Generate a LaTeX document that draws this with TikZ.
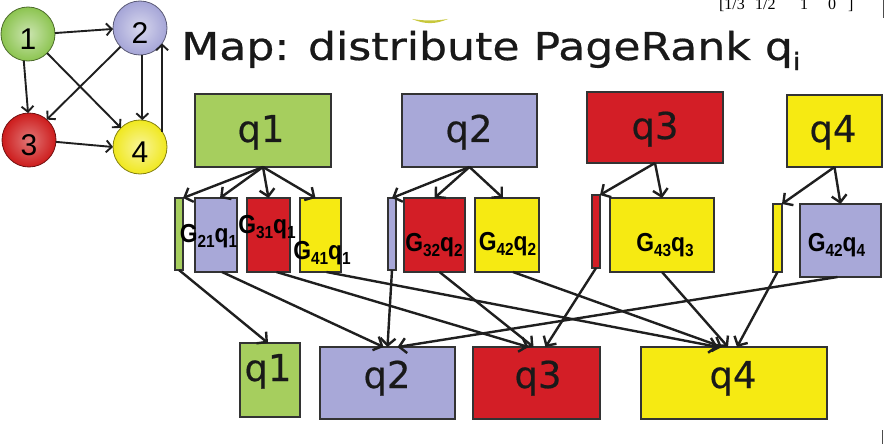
\documentclass[tikz,border=0pt]{standalone}
\usepackage{fontspec}
\usetikzlibrary{arrows.meta}
\newfontfamily\titlefont{DejaVu Sans}[FakeBold=0.5]
\newfontfamily\gfont{Liberation Sans}
\newfontfamily\serfont{Liberation Serif}
\definecolor{cgreen}{RGB}{166,206,94}
\definecolor{clav}{RGB}{168,168,216}
\definecolor{cred}{RGB}{211,30,38}
\definecolor{cyel}{RGB}{246,234,18}
\definecolor{ggreen}{RGB}{140,196,80}
\definecolor{glav}{RGB}{165,165,215}
\definecolor{gred}{RGB}{205,28,28}
\definecolor{gyel}{RGB}{240,232,30}
\definecolor{blip}{RGB}{200,200,60}
\newcommand\glab[2]{\scalebox{0.88}[1]{G\raisebox{-5pt}{\fontsize{17.5}{17.5}\selectfont #1}q\raisebox{-5pt}{\fontsize{17.5}{17.5}\selectfont #2}}}
\tikzset{
  bx/.style={draw=black!80, line width=1.3pt, rectangle, inner sep=0pt, outer sep=0pt},
  qlab/.style={anchor=base, inner sep=0pt, text=black!90, font=\titlefont\fontsize{37}{37}\selectfont},
  glabel/.style={anchor=base, inner sep=0pt, font=\gfont\bfseries\fontsize{26}{26}\selectfont},
  arr/.style={draw=black!88, line width=2.4pt, -{Straight Barb[length=7pt,width=15pt]}},
  garr/.style={draw=black!88, line width=1.9pt, -{Straight Barb[length=5.5pt,width=12pt]}},
  gnode/.style={circle, minimum size=54pt, inner sep=0pt, outer sep=0pt, line width=0.8pt},
  gdig/.style={inner sep=0pt, font=\gfont\fontsize{30}{30}\selectfont},
}
\begin{document}
\begin{tikzpicture}[x=1pt,y=-1pt]
\useasboundingbox (0,0) rectangle (887,444);
\fill[white] (0,0) rectangle (887,444);
\clip (0,0) rectangle (887,444);

% graph
\node[gnode, draw=ggreen!55!black, inner color=ggreen!45!white, outer color=ggreen] (n1) at (28,34) {};
\node[gnode, draw=glav!55!black, inner color=glav!45!white, outer color=glav] (n2) at (140,28) {};
\node[gnode, draw=gred!55!black, inner color=gred!60!white, outer color=gred] (n3) at (29,140) {};
\node[gnode, draw=gyel!55!black, inner color=gyel!45!white, outer color=gyel] (n4) at (140,147) {};
\node[gdig] at ([yshift=-5pt]n1) {1};
\node[gdig] at ([yshift=-5pt]n2) {2};
\node[gdig] at ([yshift=-5pt]n3) {3};
\node[gdig] at ([yshift=-5pt]n4) {4};
\draw[garr] (n1.2) -- (n2.182);
\draw[garr] (n1.-99) -- (n3.92);
\draw[garr] (n1.-45) -- (n4.135);
\draw[garr] (n2.-136) -- (n3.49);
\draw[garr] (n2.-85) -- (n4.85);
\draw[garr] (n3.-4) -- (n4.180);
\draw[garr] (n4.35) -- (n2.-35);

% title
\node[anchor=base west, inner sep=0pt, text=black!90] (title) at (181,60) {\scalebox{1.15}[1]{\titlefont\fontsize{38.4}{40}\selectfont Map: distribute PageRank q\raisebox{-10pt}{\fontsize{24}{24}\selectfont i}}};

% fragments at the top
\node[anchor=base east, inner sep=0pt, font=\serfont\fontsize{16}{16}\selectfont] (fa) at (745,10) {[1/3};
\node[anchor=base west, inner sep=0pt, font=\serfont\fontsize{16}{16}\selectfont] (fb) at (755,10) {1/2};
\node[anchor=base west, inner sep=0pt, font=\serfont\fontsize{16}{16}\selectfont] (fc) at (800,10) {1};
\node[anchor=base west, inner sep=0pt, font=\serfont\fontsize{16}{16}\selectfont] (fd) at (828,10) {0};
\node[anchor=base west, inner sep=0pt, font=\serfont\fontsize{16}{16}\selectfont] (fe) at (848,10) {]};
\draw[black!70, line width=0.8pt] (883,0) -- (883,18);
\draw[black!70, line width=0.8pt] (882,430) -- (882,444);
\fill[blip] (412,19) .. controls (425,24.5) and (435,24.5) .. (448,19) .. controls (435,21) and (425,21) .. (412,19);

% top boxes
\node[bx, fill=cgreen, minimum width=136pt, minimum height=73pt] (t1) at (263,130.5) {};
\node[bx, fill=clav, minimum width=135pt, minimum height=73pt] (t2) at (469.5,130.5) {};
\node[bx, fill=cred, minimum width=136pt, minimum height=71pt] (t3) at (655,127.5) {};
\node[bx, fill=cyel, minimum width=95pt, minimum height=72pt] (t4) at (834.5,131) {};

% middle boxes
\node[bx, fill=cgreen, minimum width=8pt, minimum height=72pt] (m1g) at (179,234) {};
\node[bx, fill=clav, minimum width=42pt, minimum height=74pt] (m21) at (216,235) {};
\node[bx, fill=cred, minimum width=43pt, minimum height=74pt] (m31) at (268.5,235) {};
\node[bx, fill=cyel, minimum width=41pt, minimum height=74pt] (m41) at (320.5,235) {};
\node[bx, fill=clav, minimum width=8pt, minimum height=72pt] (m2b) at (392,234) {};
\node[bx, fill=cred, minimum width=61pt, minimum height=74pt] (m32) at (434.5,235) {};
\node[bx, fill=cyel, minimum width=64pt, minimum height=74pt] (m42) at (507,235) {};
\node[bx, fill=cred, minimum width=8pt, minimum height=73pt] (m3b) at (596,231.5) {};
\node[bx, fill=cyel, minimum width=104pt, minimum height=74pt] (m43) at (662,235) {};
\node[bx, fill=cyel, minimum width=9pt, minimum height=68pt] (m4b) at (777.5,238) {};
\node[bx, fill=clav, minimum width=81pt, minimum height=73pt] (m44) at (840.5,240.5) {};

% bottom boxes
\node[bx, fill=cgreen, minimum width=60pt, minimum height=74pt] (b1) at (270,380) {};
\node[bx, fill=clav, minimum width=135pt, minimum height=72pt] (b2) at (387.5,383) {};
\node[bx, fill=cred, minimum width=127pt, minimum height=72pt] (b3) at (536.5,383) {};
\node[bx, fill=cyel, minimum width=186pt, minimum height=72pt] (b4) at (734,383) {};

% top fan arrows
\draw[arr] (t1.south) -- (m1g.north east);
\draw[arr] (t1.south) -- ([xshift=4pt]m21.north);
\draw[arr] (t1.south) -- (m31.north);
\draw[arr] (t1.south) -- ([xshift=-5pt]m41.north);
\draw[arr] (t2.south) -- (m2b.north);
\draw[arr] (t2.south) -- (m32.north);
\draw[arr] (t2.south) -- ([xshift=-4pt]m42.north);
\draw[arr] (t3.south) -- (m3b.north east);
\draw[arr] (t3.south) -- (m43.north);
\draw[arr] (t4.south) -- (m4b.north east);
\draw[arr] (t4.south) -- (m44.north);

% bottom arrows
\draw[arr] (m1g.south) -- ([xshift=-2pt]b1.north);
\draw[arr] ([xshift=6pt]m21.south) -- ([xshift=-4pt]b2.north);
\draw[arr] ([xshift=8pt]m31.south) -- ([xshift=-8pt]b3.north);
\draw[arr] ([xshift=6pt]m41.south) -- ([xshift=-16pt]b4.north);
\draw[arr] (m2b.south) -- (b2.north);
\draw[arr] ([xshift=5pt]m32.south) -- ([xshift=-3pt]b3.north);
\draw[arr] ([xshift=6pt]m42.south) -- ([xshift=-12pt]b4.north);
\draw[arr] (m3b.south) -- ([xshift=9pt]b3.north);
\draw[arr] (m43.south) -- ([xshift=-6pt]b4.north);
\draw[arr] (m4b.south) -- ([xshift=3pt]b4.north);
\draw[arr] ([xshift=-3pt]m44.south) -- ([xshift=10pt]b2.north);

% labels
\node[qlab] at (261,142) {q1};
\node[qlab] at (469,142) {q2};
\node[qlab] at (655,139) {q3};
\node[qlab] at (833,142) {q4};
\node[qlab] at (268,381) {q1};
\node[qlab] at (387,388) {q2};
\node[qlab] at (538,388) {q3};
\node[qlab] at (733,388) {q4};
\node[glabel] at (208.5,242) {\glab{21}{1}};
\node[glabel] at (267,233) {\glab{31}{1}};
\node[glabel] at (322,259) {\glab{41}{1}};
\node[glabel] at (434,251) {\glab{32}{2}};
\node[glabel] at (507.5,250) {\glab{42}{2}};
\node[glabel] at (665,251) {\glab{43}{3}};
\node[glabel] at (836.5,251) {\glab{42}{4}};
\end{tikzpicture}
\end{document}
